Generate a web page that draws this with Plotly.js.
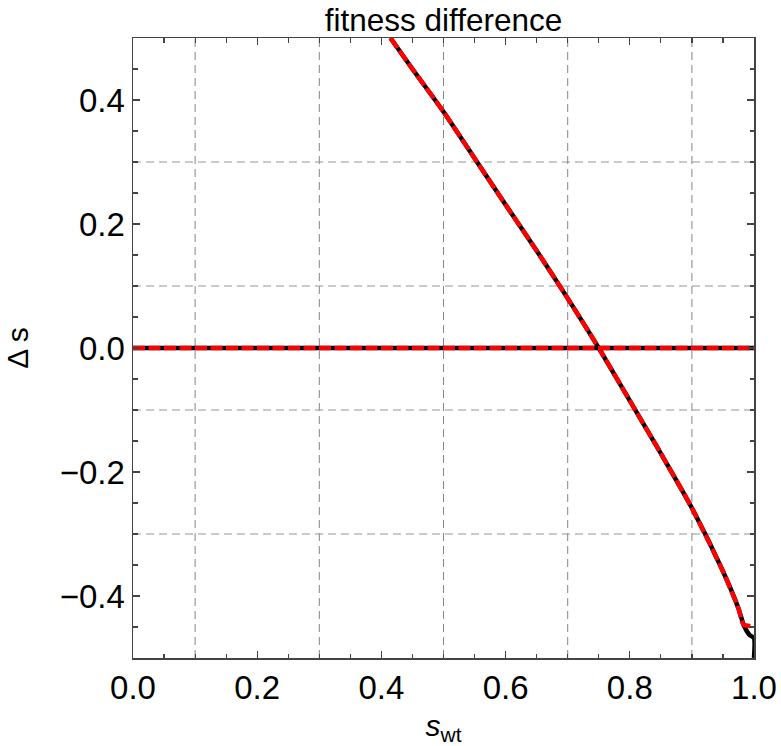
<!DOCTYPE html>
<html>
<head>
<meta charset="utf-8">
<script src="https://cdn.plot.ly/plotly-3.0.1.min.js"></script>
<style>
  html, body { margin: 0; padding: 0; background: #fff; }
  #chart { width: 781px; height: 746px; }
</style>
</head>
<body>
<div id="chart"></div>
<script>
// Fitness difference Δs as a function of the wild-type fitness s_wt
const sWt = [0.4146, 0.45, 0.5, 0.55, 0.6, 0.65, 0.7, 0.75, 0.8, 0.85, 0.9, 0.95, 0.975, 0.983];
const deltaS = [0.5, 0.45, 0.381, 0.306, 0.231, 0.157, 0.08, 0.0, -0.085, -0.17, -0.258, -0.36, -0.42, -0.446];

// end of the exact (black) curve near s_wt = 1
const exactTailX = [0.988, 0.993, 1.0, 1.0];
const exactTailY = [-0.456, -0.463, -0.468, -0.5];

// end of the approximation (red dashed) near s_wt = 1
const approxTailX = [1.0];
const approxTailY = [-0.449];

// neutral reference line Δs = 0
const zeroX = [0, 1];
const zeroY = [0, 0];

// axis ticks and dashed grid positions
const xTicks = [0, 0.2, 0.4, 0.6, 0.8, 1.0];
const xTickText = ["0.0", "0.2", "0.4", "0.6", "0.8", "1.0"];
const yTicks = [-0.4, -0.2, 0, 0.2, 0.4];
const yTickText = ["\u22120.4", "\u22120.2", "0.0", "0.2", "0.4"];
const gridX = [0.1, 0.3, 0.5, 0.7, 0.9];
const gridY = [-0.3, -0.1, 0.1, 0.3];

const FONT = "Liberation Sans, Arial, Helvetica, sans-serif";
const AXIS_COLOR = "#444";
const dashRed = "12px,3.5px";

const traces = [
  { x: sWt.concat(exactTailX), y: deltaS.concat(exactTailY), mode: "lines",
    line: { color: "#000", width: 4.5, shape: "spline", smoothing: 0.6 }, hoverinfo: "skip" },
  { x: sWt.concat(approxTailX), y: deltaS.concat(approxTailY), mode: "lines",
    line: { color: "#ff0000", width: 4.5, dash: dashRed, shape: "spline", smoothing: 0.6 }, hoverinfo: "skip" },
  { x: zeroX, y: zeroY, mode: "lines",
    line: { color: "#000", width: 4.5 }, hoverinfo: "skip" },
  { x: zeroX, y: zeroY, mode: "lines",
    line: { color: "#ff0000", width: 4.5, dash: dashRed }, hoverinfo: "skip" }
];

const gridShapes = [];
gridX.forEach(v => gridShapes.push({
  type: "line", xref: "x", yref: "paper", x0: v, x1: v, y0: 0, y1: 1,
  layer: "below", line: { color: "#858585", width: 1, dash: "8px,5px" }
}));
gridY.forEach(v => gridShapes.push({
  type: "line", xref: "paper", yref: "y", x0: 0, x1: 1, y0: v, y1: v,
  layer: "below", line: { color: "#959595", width: 1, dash: "8px,5px" }
}));

function axisStyle(range, tickvals, ticktext) {
  return {
    range: range, autorange: false,
    tickmode: "array", tickvals: tickvals, ticktext: ticktext,
    ticks: "inside", ticklen: 7, tickwidth: 1.2, tickcolor: AXIS_COLOR,
    minor: { dtick: 0.05, tick0: 0, ticks: "inside", ticklen: 4.5, tickwidth: 1.2,
             tickcolor: AXIS_COLOR, showgrid: false },
    showline: true, linecolor: AXIS_COLOR, linewidth: 1.5, mirror: "allticks",
    showgrid: false, zeroline: false,
    tickfont: { family: FONT, size: 33, color: "#000" }
  };
}

const xaxis = axisStyle([0, 1], xTicks, xTickText);
xaxis.title = { text: "<i>s</i><sub>wt</sub>", font: { family: FONT, size: 30, color: "#000" }, standoff: 12 };
const yaxis = axisStyle([-0.5, 0.5], yTicks, yTickText);
yaxis.title = { text: "\u0394 s", font: { family: FONT, size: 30, color: "#000" }, standoff: 22 };

const layout = {
  width: 781, height: 746,
  margin: { l: 133, r: 27, t: 38, b: 88 },
  paper_bgcolor: "#fff", plot_bgcolor: "#fff",
  showlegend: false,
  title: { text: "fitness difference", font: { family: FONT, size: 31.5, color: "#000" },
           x: 0.5, xanchor: "center", xref: "paper", y: 0.973, yref: "container", yanchor: "middle" },
  xaxis: xaxis,
  yaxis: yaxis,
  shapes: gridShapes
};

Plotly.newPlot("chart", traces, layout, { displayModeBar: false, staticPlot: true });
</script>
</body>
</html>
